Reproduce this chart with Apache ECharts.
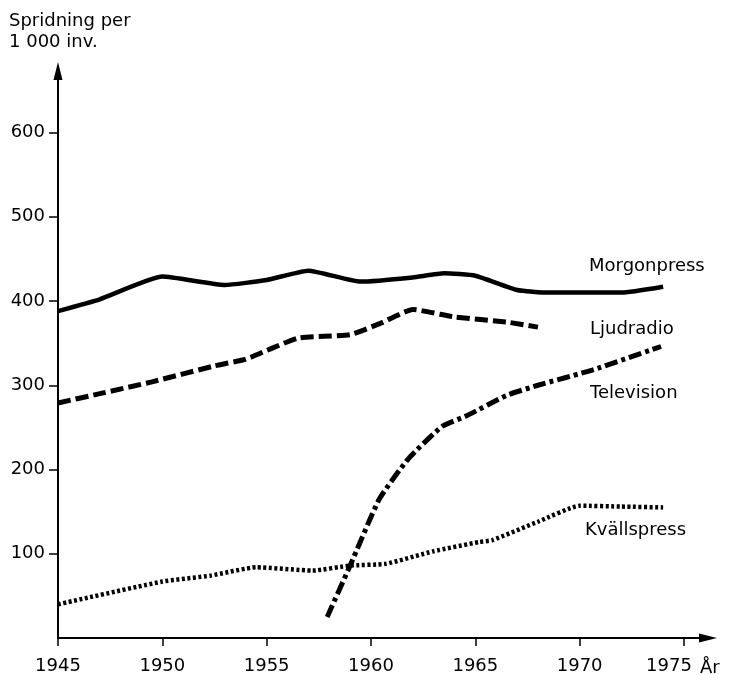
<!DOCTYPE html>
<html>
<head>
<meta charset="utf-8">
<script src="https://cdn.jsdelivr.net/npm/echarts@6/dist/echarts.min.js"></script>
<style>
  html, body { margin: 0; padding: 0; background: #fff; }
  #chart { width: 731px; height: 675px; }
</style>
</head>
<body>
<div id="chart"></div>
<script>
// tick labels
var xTicks = [1945, 1950, 1955, 1960, 1965, 1970, 1975]
var yTicks = [100, 200, 300, 400, 500, 600]

// Morgonpress (solid)
var morgonYears = [1945, 1947, 1950, 1953, 1955, 1957, 1959.5, 1962, 1963.5, 1965, 1967, 1968.5, 1972, 1974]
var morgonValues = [388, 402, 429, 419, 425, 436, 423, 428, 433, 430, 413, 410, 410, 417]

// Ljudradio (dashed)
var radioYears = [1945, 1947, 1949.5, 1952.5, 1954, 1956.5, 1959, 1960.5, 1962, 1964, 1966.5, 1968]
var radioValues = [279, 290, 304, 323, 331, 356, 360, 374, 390, 381, 375, 369]

// Television (dash-dot)
var tvYears = [1957.9, 1959, 1960.4, 1961.8, 1963.4, 1964.6, 1966.5, 1968, 1970.6, 1973.9]
var tvValues = [25, 86, 165, 213, 251, 264, 288, 300, 318, 346]

// Kvällspress (dotted)
var kvallYears = [1945, 1950, 1952.3, 1954.5, 1957.2, 1959, 1960.7, 1963, 1965.2, 1965.8, 1968, 1970, 1972, 1974]
var kvallValues = [40, 67, 74, 84, 80, 86, 88, 103, 114, 116, 138, 157, 156, 155]

function pairs(xs, ys) {
  return xs.map(function(x, i) { return [x, ys[i]] })
}

var font = 'DejaVu Sans'
var chart = echarts.init(document.getElementById('chart'))

function lineSeries(name, xs, ys, width, dash) {
  return {
    name: name,
    type: 'line',
    data: pairs(xs, ys),
    symbol: 'none',
    smooth: 0.15,
    lineStyle: {
      color: '#000',
      width: width,
      type: dash,
      cap: 'butt'
    }
  }
}

// text placed beside the chart (series names, axis names)
function label(text, x, y, extra) {
  var style = { text: text, fontFamily: font, fontSize: 18, fill: '#000', verticalAlign: 'middle' }
  Object.assign(style, extra || {})
  return { type: 'text', x: x, y: y, style: style }
}

chart.setOption({
  backgroundColor: '#fff',
  animation: false,
  // arrow heads are centred on the axis ends, so leave room for half of them
  grid: { left: 58, right: 23, top: 71, bottom: 35, containLabel: false },
  xAxis: {
    type: 'value',
    min: 1945,
    max: 1976.15,
    splitLine: { show: false },
    axisLine: {
      lineStyle: { color: '#000', width: 2 },
      symbol: ['none', 'triangle'],
      symbolSize: [9, 18]
    },
    axisTick: {
      customValues: xTicks,
      length: 8,
      lineStyle: { color: '#000', width: 1.5 }
    },
    axisLabel: {
      customValues: xTicks,
      margin: 19,
      color: '#000',
      fontFamily: font,
      fontSize: 18,
      formatter: function(v) {
        // 1975 sits a little left of its tick to leave room for "År"
        return v === 1975 ? '{s|1975}' : String(v)
      },
      rich: { s: { fontFamily: font, fontSize: 18, color: '#000', padding: [0, 30, 0, 0] } }
    }
  },
  yAxis: {
    type: 'value',
    min: 0,
    max: 673,
    splitLine: { show: false },
    axisLine: {
      lineStyle: { color: '#000', width: 2 },
      symbol: ['none', 'triangle'],
      symbolSize: [9, 18]
    },
    axisTick: {
      customValues: yTicks,
      length: 9,
      lineStyle: { color: '#000', width: 1.5 }
    },
    axisLabel: {
      customValues: yTicks,
      margin: 13,
      color: '#000',
      fontFamily: font,
      fontSize: 18
    }
  },
  graphic: [
    label('Spridning per\n1 000 inv.', 9, 11, { verticalAlign: 'top', lineHeight: 21 }),
    label('År', 700, 668),
    label('Morgonpress', 589, 266),
    label('Ljudradio', 590, 329),
    label('Television', 590, 393),
    label('Kvällspress', 585, 530)
  ],
  series: [
    lineSeries('Morgonpress', morgonYears, morgonValues, 4.5, 'solid'),
    lineSeries('Ljudradio', radioYears, radioValues, 5, [13, 5]),
    lineSeries('Television', tvYears, tvValues, 5, [13, 4, 4, 4]),
    lineSeries('Kvällspress', kvallYears, kvallValues, 4.5, [3, 2.5])
  ]
})
</script>
</body>
</html>
